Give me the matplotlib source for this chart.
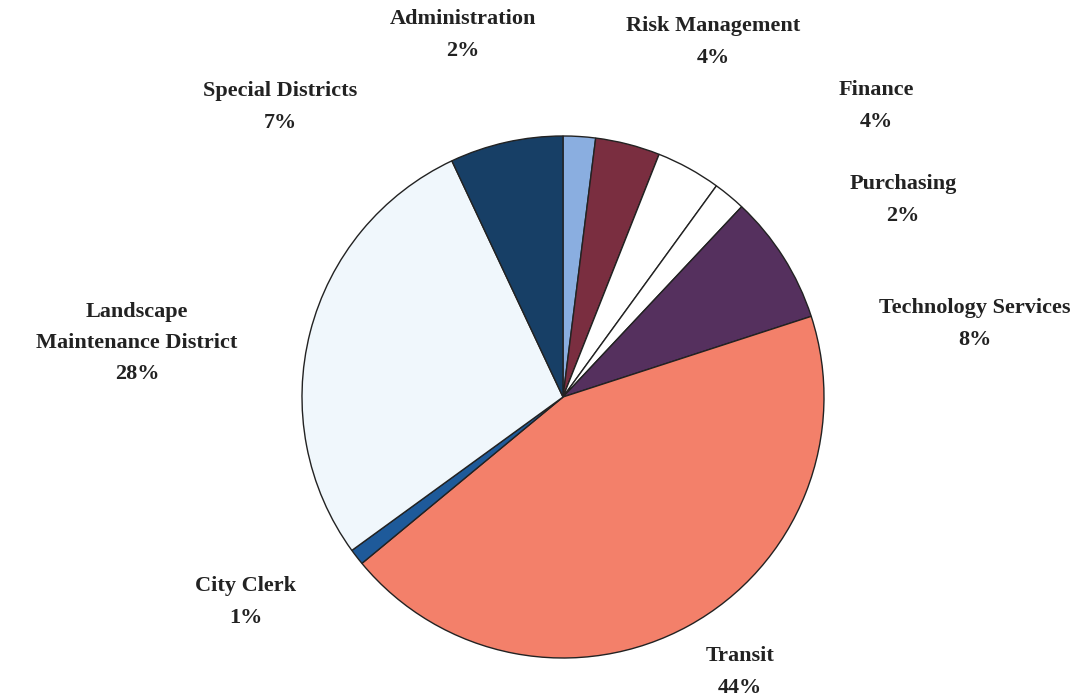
import matplotlib
matplotlib.use('Agg')
import matplotlib.pyplot as plt

# departments, clockwise from 12 o'clock
departments = ['Administration', 'Risk Management', 'Finance', 'Purchasing',
               'Technology Services', 'Transit', 'City Clerk',
               'Landscape\nMaintenance District', 'Special Districts']
shares = [2, 4, 4, 2, 8, 44, 1, 28, 7]
colors = ['#8aaee0', '#7a2e40', '#ffffff', '#ffffff', '#55305e',
          '#f3806a', '#1e5a9a', '#f0f7fc', '#173f66']

# where each label block sits (pixels from top-left)
label_pos = [(463, 35), (713, 42), (876, 106), (903, 200), (975, 324),
             (740, 672), (246, 602), (137, 343), (280, 107)]

W, H = 1090, 698
fig = plt.figure(figsize=(W / 100, H / 100), dpi=100)
ax = fig.add_axes([0, 0, 1, 1])

ax.pie(shares, colors=colors, startangle=90, counterclock=False,
       center=(563, H - 397), radius=261,
       wedgeprops=dict(edgecolor='#222222', linewidth=1.0), frame=True)
ax.set_xlim(0, W)
ax.set_ylim(0, H)
ax.set_aspect('equal')
ax.axis('off')

for name, pct, (x, y) in zip(departments, shares, label_pos):
    ax.text(x, H - y, f'{name}\n{pct}%', ha='center', va='center',
            fontsize=16, fontweight='bold', family='Liberation Serif',
            color='#222222', linespacing=1.75)

fig.savefig('out.png', dpi=100)
